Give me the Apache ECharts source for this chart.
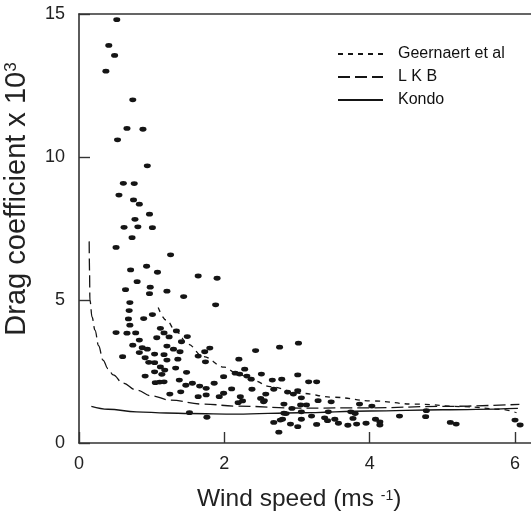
<!DOCTYPE html>
<html>
<head>
<meta charset="utf-8">
<script src="https://cdn.jsdelivr.net/npm/echarts@6/dist/echarts.min.js"></script>
<style>
html,body{margin:0;padding:0;background:#fff;}
#chart{width:531px;height:516px;}
</style>
</head>
<body>
<div id="chart"></div>
<script>
// Observations: wind speed (m/s) and drag coefficient x 10^3
const obsSpeed = [0.52,0.41,0.49,0.37,0.74,0.66,0.88,0.53,0.94,0.61,0.76,0.55,0.75,0.83,0.97,0.77,0.62,0.81,1.01,0.73,0.51,1.26,0.71,0.93,1.08,1.64,1.90,0.80,0.64,0.98,0.97,1.21,1.44,1.88,0.70,0.69,0.68,0.89,1.01,0.70,0.51,0.66,0.78,1.12,1.17,1.34,0.83,1.07,1.24,1.41,1.49,0.74,0.87,0.94,1.21,1.30,0.83,1.04,1.17,1.39,0.60,0.91,0.96,1.04,1.21,1.36,1.64,1.73,1.80,1.74,2.20,2.43,2.76,3.02,1.12,1.18,1.33,1.48,0.91,1.04,1.14,1.05,1.11,1.17,1.38,1.47,1.56,1.66,1.75,1.86,1.99,2.21,2.28,2.31,2.37,2.51,2.66,2.79,1.25,1.40,1.64,1.75,1.93,1.99,2.10,2.22,2.25,2.38,2.50,2.57,2.54,2.68,2.87,2.95,3.01,1.52,1.76,2.82,2.68,2.77,2.75,2.91,3.01,3.01,2.15,3.06,2.82,2.93,3.05,3.06,2.85,2.80,3.06,2.19,2.55,3.16,3.27,3.29,3.47,3.13,3.86,4.03,3.20,3.43,3.27,3.38,3.42,3.52,3.57,3.70,3.82,3.95,3.74,3.80,3.77,4.08,4.14,4.14,4.41,4.78,4.77,5.11,5.19,6.00,6.07];
const obsDrag = [14.8,13.9,13.55,13.0,12.0,11.0,10.97,10.6,9.69,9.08,9.07,8.67,8.5,8.35,8.0,7.82,7.54,7.56,7.53,7.18,6.84,6.58,6.05,6.18,5.97,5.84,5.76,5.64,5.36,5.45,5.22,5.31,5.12,4.83,4.91,4.63,4.34,4.35,4.49,4.12,3.86,3.84,3.85,4.01,3.85,3.92,3.60,3.68,3.71,3.54,3.72,3.42,3.33,3.28,3.39,3.28,3.16,3.11,3.09,3.19,3.02,2.98,2.82,2.81,2.90,2.93,3.04,3.19,3.32,2.84,2.93,3.23,3.35,3.49,2.66,2.55,2.62,2.47,2.34,2.49,2.40,2.11,2.13,2.14,2.20,2.02,2.09,1.99,1.91,2.09,2.32,2.41,2.58,2.34,2.23,2.41,2.20,2.23,1.71,1.79,1.62,1.68,1.62,1.74,1.89,1.62,1.47,1.88,1.56,1.71,1.44,1.88,1.78,1.71,1.83,1.06,0.90,1.04,0.72,0.80,0.38,0.66,0.57,2.38,2.44,1.58,1.36,1.21,1.33,1.09,1.03,0.83,0.83,1.41,1.48,2.14,2.14,1.48,1.44,1.33,1.36,1.29,0.94,1.09,0.65,0.88,0.78,0.83,0.69,0.62,0.66,0.69,1.09,1.03,0.86,0.83,0.74,0.63,0.94,1.13,0.92,0.72,0.66,0.80,0.63];

// Model curves
const geernaertU = [1.09,1.2,1.34,1.5,1.71,2.0,2.17,2.4,2.63,3.04,3.5,4.03,4.62,5.31,5.8,6.02];
const geernaertC = [4.74,4.3,3.89,3.45,3.02,2.65,2.44,2.18,1.97,1.74,1.6,1.47,1.36,1.27,1.18,1.06];
const lkbU = [0.14,0.145,0.15,0.18,0.22,0.27,0.33,0.4,0.47,0.6,0.79,1.0,1.25,1.71,2.17,3.04,4.0,5.0,6.06];
const lkbC = [7.05,6.0,5.0,4.4,3.95,3.4,2.9,2.6,2.38,2.1,1.85,1.65,1.5,1.36,1.29,1.22,1.23,1.28,1.35];
const kondoU = [0.17,0.4,0.79,1.2,1.52,2.17,3.04,4.0,5.0,6.04];
const kondoC = [1.28,1.18,1.09,1.05,1.03,1.01,1.06,1.12,1.16,1.21];

const xTicks = [0,2,4,6];
const yTicks = [0,5,10,15];
const seriesNames = ['Geernaert et al','L K B','Kondo'];

const zip = (a,b) => a.map((v,i)=>[v,b[i]]);
const ink = '#151515';
const font = '"Liberation Sans", Arial, Helvetica, sans-serif';

const chart = echarts.init(document.getElementById('chart'), null, {renderer:'canvas'});
chart.setOption({
  animation:false,
  backgroundColor:'#fff',
  color:[ink,ink,ink,ink],
  textStyle:{fontFamily:font},
  grid:{left:79,top:14,right:0,bottom:73,containLabel:false},
  legend:{
    data:seriesNames,
    orient:'vertical',
    left:337, top:46,
    itemWidth:45, itemHeight:14, itemGap:7,
    padding:0,
    itemStyle:{opacity:0},
    lineStyle:{color:ink},
    textStyle:{fontSize:16,color:'#111',fontFamily:font,padding:[0,0,0,10]}
  },
  xAxis:[{
    type:'value', min:0, max:6.22, interval:2,
    axisLine:{lineStyle:{color:'#333',width:1.6}},
    axisTick:{inside:true,length:11,customValues:xTicks,lineStyle:{color:'#333',width:1.4}},
    axisLabel:{customValues:xTicks,fontSize:18,color:'#222',margin:12,fontFamily:font},
    splitLine:{show:false}
  },{
    type:'value', position:'top', min:0, max:6.22,
    axisLine:{show:true,lineStyle:{color:'#333',width:1.6}},
    axisTick:{show:false}, axisLabel:{show:false}, splitLine:{show:false}
  }],
  yAxis:{
    type:'value', min:0, max:15, interval:5,
    axisLine:{show:true,lineStyle:{color:'#333',width:1.6}},
    axisTick:{show:true,inside:true,length:11,customValues:yTicks,lineStyle:{color:'#333',width:1.4}},
    axisLabel:{customValues:yTicks,fontSize:18,color:'#222',margin:14,fontFamily:font},
    splitLine:{show:false}
  },
  graphic:[
    {type:'text', left:197, top:487, silent:true,
     style:{text:'{m|Wind speed (ms }{s|-1}{m|)}', rich:{
       m:{fontSize:24.5,fontFamily:font,fill:'#222',verticalAlign:'bottom',lineHeight:27},
       s:{fontSize:14,fontFamily:font,fill:'#222',verticalAlign:'bottom',lineHeight:27,padding:[0,0,9,0]}
     }}},
    {type:'text', x:16, y:199, rotation:Math.PI/2, silent:true,
     style:{text:'{m|Drag coefficient x 10}{s|3}', align:'center', verticalAlign:'middle', rich:{
       m:{fontSize:29,fontFamily:font,fill:'#222',verticalAlign:'bottom',lineHeight:31},
       s:{fontSize:17,fontFamily:font,fill:'#222',verticalAlign:'bottom',lineHeight:31,padding:[0,0,12,0]}
     }}}
  ],
  series:[
    {name:'observations', type:'scatter', data:zip(obsSpeed,obsDrag),
     symbol:'circle', symbolSize:[7,4.8], itemStyle:{color:ink,opacity:1}, z:3},
    {name:seriesNames[0], type:'line', data:zip(geernaertU,geernaertC), symbol:'none',
     itemStyle:{color:ink}, smooth:0.4, smoothMonotone:'x', lineStyle:{color:ink,width:1.3,type:[5,5]}},
    {name:seriesNames[1], type:'line', data:zip(lkbU,lkbC), symbol:'none',
     itemStyle:{color:ink}, smooth:0.4, smoothMonotone:'x', lineStyle:{color:ink,width:1.3,type:[12,5]}},
    {name:seriesNames[2], type:'line', data:zip(kondoU,kondoC), symbol:'none',
     itemStyle:{color:ink}, smooth:0.4, smoothMonotone:'x', lineStyle:{color:ink,width:1.4}}
  ]
});
</script>
</body>
</html>
